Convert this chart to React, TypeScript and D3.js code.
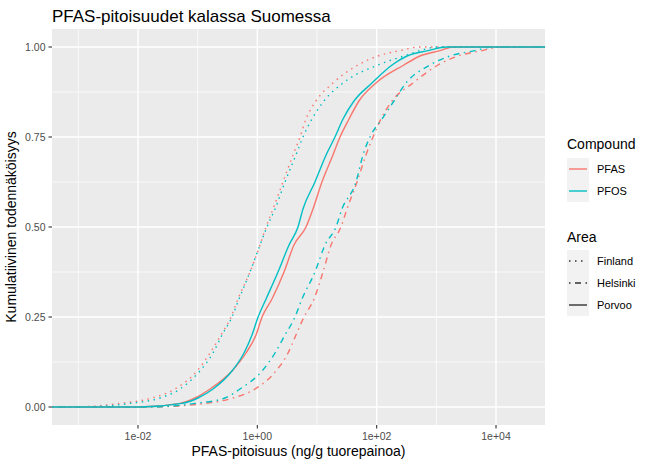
import React from "react";
import * as d3 from "d3";

// cumulative probability levels at which concentrations were read
const probs = [0, 0.01, 0.025, 0.05, 0.1, 0.15, 0.2, 0.25, 0.3, 0.375, 0.45, 0.5, 0.55, 0.625, 0.7, 0.75, 0.8, 0.85, 0.9, 0.95, 0.975, 0.99, 1];

// concentrations (ng/g fresh weight) at each probability level
const finlandPFAS = [0.000724, 0.00499, 0.0172, 0.0417, 0.0975, 0.161, 0.246, 0.362, 0.474, 0.753, 1.11, 1.40, 1.83, 2.69, 3.96, 5.19, 6.54, 9.62, 18.5, 48.6, 105, 246, 532];
const finlandPFOS = [0.00107, 0.00734, 0.0234, 0.0506, 0.109, 0.181, 0.256, 0.376, 0.493, 0.753, 1.11, 1.45, 1.98, 2.91, 4.44, 5.82, 8.24, 13.1, 27.3, 105, 287, 532, 1025];
const helsinkiPFAS = [0.0159, 0.133, 0.391, 0.914, 2.05, 3.27, 4.44, 6.05, 8.91, 12.6, 17.2, 25.2, 31.8, 46.8, 66.2, 86.8, 118, 181, 406, 1066, 2305, 5821, 11660];
const helsinkiPFOS = [0.0159, 0.0902, 0.287, 0.512, 1.20, 1.98, 2.91, 4.28, 5.60, 9.25, 13.6, 20.8, 26.2, 45.0, 59.0, 77.3, 123, 195, 310, 783, 1693, 4443, 8897];
const porvooPFAS = [0.0108, 0.0506, 0.0902, 0.161, 0.376, 0.646, 0.950, 1.20, 1.76, 2.80, 4.11, 6.54, 8.57, 12.1, 18.5, 24.3, 34.4, 50.5, 97.4, 287, 532, 1151, 1901];
const porvooPFOS = [0.0108, 0.0546, 0.101, 0.181, 0.376, 0.598, 0.814, 1.03, 1.40, 2.22, 3.40, 4.80, 5.82, 9.25, 14.2, 20.0, 27.3, 41.7, 83.5, 181, 322, 725, 1508];

const compounds = ["PFAS", "PFOS"];
const areas = ["Finland", "Helsinki", "Porvoo"];
const xTickValues = [1e-2, 1, 1e2, 1e4];
const xTickLabels = ["1e-02", "1e+00", "1e+02", "1e+04"];
const xMinorValues = [1e-3, 1e-1, 1e1, 1e3];
const yTickValues = [0, 0.25, 0.5, 0.75, 1];
const yTickLabels = ["0.00", "0.25", "0.50", "0.75", "1.00"];
const yMinorValues = [0.125, 0.375, 0.625, 0.875];
const xDomain = [Math.pow(10, -3.441), Math.pow(10, 4.821)];

const series = [
  { compound: "PFAS", area: "Finland", values: finlandPFAS },
  { compound: "PFOS", area: "Finland", values: finlandPFOS },
  { compound: "PFAS", area: "Helsinki", values: helsinkiPFAS },
  { compound: "PFOS", area: "Helsinki", values: helsinkiPFOS },
  { compound: "PFAS", area: "Porvoo", values: porvooPFAS },
  { compound: "PFOS", area: "Porvoo", values: porvooPFOS },
];

const colorScale = d3.scaleOrdinal<string, string>().domain(compounds).range(["#F8766D", "#00BFC4"]);
const dashScale = d3.scaleOrdinal<string, string>().domain(areas).range(["1.5 4.5", "1.5 4.5 6 4.5", "none"]);

const W = 650, H = 465;
const PL = 52, PR = 545, PT = 29, PB = 425;
const FONT = "'Liberation Sans', Arial, sans-serif";

export default function App() {
  const x = d3.scaleLog().domain(xDomain).range([PL, PR]);
  const y = d3.scaleLinear().domain([-0.05, 1.05]).range([PB, PT]);
  const line = d3
    .line<[number, number]>()
    .x((d) => d[0])
    .y((d) => d[1])
    .curve(d3.curveMonotoneX);

  const paths = series.map((s) => {
    const pts: [number, number][] = [[PL, y(0)]];
    s.values.forEach((v, i) => pts.push([x(v), y(probs[i])]));
    pts.push([PR, y(1)]);
    return { ...s, d: line(pts) || "" };
  });

  const legendX = 567;
  const key = 22;

  return (
    <svg width={W} height={H} style={{ position: "absolute", left: 0, top: 0, background: "#fff" }} fontFamily={FONT}>
      <defs>
        <clipPath id="panel">
          <rect x={PL} y={PT} width={PR - PL} height={PB - PT} />
        </clipPath>
      </defs>
      <text x={PL} y={22} fontSize={17} fill="#000">PFAS-pitoisuudet kalassa Suomessa</text>
      <rect x={PL} y={PT} width={PR - PL} height={PB - PT} fill="#EBEBEB" />
      {xMinorValues.map((v) => (
        <line key={"xm" + v} x1={x(v)} x2={x(v)} y1={PT} y2={PB} stroke="#fff" strokeWidth={0.7} />
      ))}
      {yMinorValues.map((v) => (
        <line key={"ym" + v} x1={PL} x2={PR} y1={y(v)} y2={y(v)} stroke="#fff" strokeWidth={0.7} />
      ))}
      {xTickValues.map((v) => (
        <line key={"xM" + v} x1={x(v)} x2={x(v)} y1={PT} y2={PB} stroke="#fff" strokeWidth={1.4} />
      ))}
      {yTickValues.map((v) => (
        <line key={"yM" + v} x1={PL} x2={PR} y1={y(v)} y2={y(v)} stroke="#fff" strokeWidth={1.4} />
      ))}
      <g clipPath="url(#panel)">
        {paths.map((p) => (
          <path
            key={p.compound + p.area}
            d={p.d}
            fill="none"
            stroke={colorScale(p.compound)}
            strokeWidth={1.4}
            strokeDasharray={dashScale(p.area)}
          />
        ))}
      </g>
      {/* y axis */}
      {yTickValues.map((v, i) => (
        <g key={"yt" + v}>
          <line x1={PL - 3.5} x2={PL} y1={y(v)} y2={y(v)} stroke="#333" strokeWidth={1.1} />
          <text x={PL - 6.5} y={y(v)} dy="0.35em" textAnchor="end" fontSize={10.5} fill="#4D4D4D">{yTickLabels[i]}</text>
        </g>
      ))}
      {xTickValues.map((v, i) => (
        <g key={"xt" + v}>
          <line x1={x(v)} x2={x(v)} y1={PB} y2={PB + 3.5} stroke="#333" strokeWidth={1.1} />
          <text x={x(v)} y={440} textAnchor="middle" fontSize={10.5} fill="#4D4D4D">{xTickLabels[i]}</text>
        </g>
      ))}
      <text x={(PL + PR) / 2} y={456} textAnchor="middle" fontSize={14} fill="#000">PFAS-pitoisuus (ng/g tuorepainoa)</text>
      <text transform={`translate(16,${(PT + PB) / 2}) rotate(-90)`} textAnchor="middle" fontSize={14} fill="#000">Kumulatiivinen todennäköisyys</text>

      {/* legend: Compound */}
      <text x={legendX} y={149} fontSize={14} fill="#000">Compound</text>
      {compounds.map((c, i) => {
        const ky = 158 + i * key;
        return (
          <g key={"lc" + c}>
            <rect x={legendX} y={ky} width={key} height={key} fill="#F2F2F2" />
            <line x1={legendX + 2} x2={legendX + key - 2} y1={ky + key / 2} y2={ky + key / 2} stroke={colorScale(c)} strokeWidth={1.4} />
            <text x={legendX + key + 8} y={ky + key / 2} dy="0.35em" fontSize={11} fill="#000">{c}</text>
          </g>
        );
      })}
      {/* legend: Area */}
      <text x={legendX} y={242} fontSize={14} fill="#000">Area</text>
      {areas.map((a, i) => {
        const ky = 250 + i * key;
        return (
          <g key={"la" + a}>
            <rect x={legendX} y={ky} width={key} height={key} fill="#F2F2F2" />
            <line x1={legendX + 2} x2={legendX + key - 2} y1={ky + key / 2} y2={ky + key / 2} stroke="#333" strokeWidth={1.4} strokeDasharray={dashScale(a)} />
            <text x={legendX + key + 8} y={ky + key / 2} dy="0.35em" fontSize={11} fill="#000">{a}</text>
          </g>
        );
      })}
    </svg>
  );
}
